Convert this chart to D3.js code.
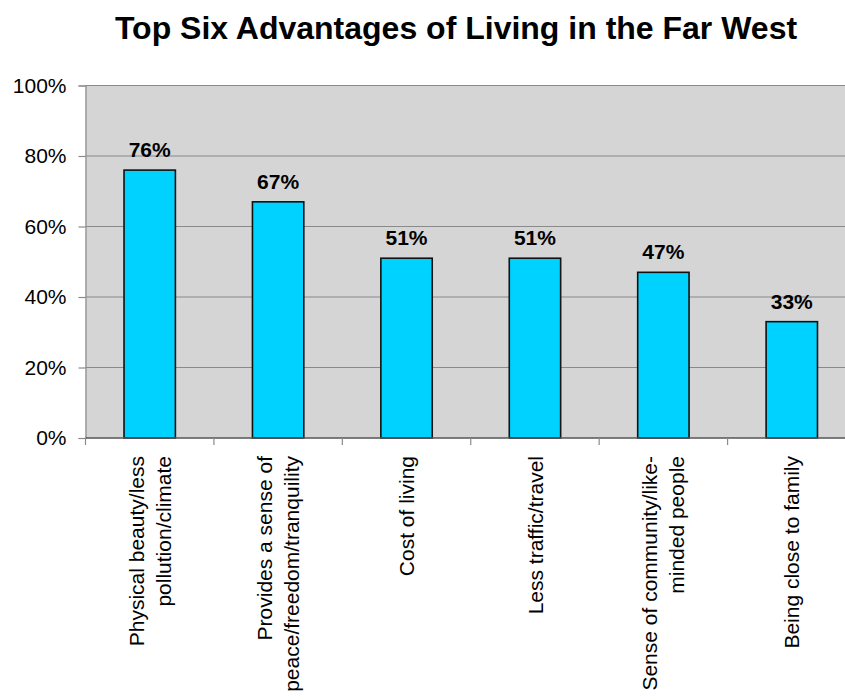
<!DOCTYPE html>
<html>
<head>
<meta charset="utf-8">
<script src="https://cdn.jsdelivr.net/npm/d3@7"></script>
<style>
  html, body { margin: 0; padding: 0; background: #fff; }
  svg { display: block; font-family: Arial, "Liberation Sans", sans-serif; }
</style>
</head>
<body>
<svg id="chart" width="845" height="700"></svg>
<script>
// Survey results: share of respondents naming each advantage
const categories = [
  "Physical beauty/less\npollution/climate",
  "Provides a sense of\npeace/freedom/tranquility",
  "Cost of living",
  "Less traffic/travel",
  "Sense of community/like-\nminded people",
  "Being close to family"
];
const values = [76, 67, 51, 51, 47, 33];
const yTicks = [0, 20, 40, 60, 80, 100];
const title = "Top Six Advantages of Living in the Far West";

const svg = d3.select("#chart");
const plot = { left: 85.5, right: 856, top: 85.5, bottom: 438 };

const x = d3.scaleBand()
  .domain(categories)
  .range([plot.left, plot.right])
  .paddingInner(0.6)
  .paddingOuter(0.3);

const y = d3.scaleLinear()
  .domain([0, 100])
  .range([plot.bottom, plot.top]);

// Plot background
svg.append("rect")
  .attr("x", plot.left).attr("y", plot.top)
  .attr("width", plot.right - plot.left).attr("height", plot.bottom - plot.top)
  .attr("fill", "#d5d5d5");

// Horizontal gridlines
svg.append("g")
  .selectAll("line")
  .data(yTicks.filter(d => d > 0))
  .join("line")
  .attr("x1", plot.left).attr("x2", plot.right)
  .attr("y1", d => y(d)).attr("y2", d => y(d))
  .attr("stroke", "#8a8a8a")
  .attr("stroke-width", 1.2);

// Y axis
const yAxis = svg.append("g")
  .attr("transform", `translate(${plot.left},0)`)
  .call(d3.axisLeft(y).tickValues(yTicks).tickFormat(d => d + "%").tickSize(7).tickPadding(12));
yAxis.select(".domain").attr("stroke", "#8a8a8a").attr("stroke-width", 1.2);
yAxis.selectAll(".tick line").attr("stroke", "#8a8a8a").attr("stroke-width", 1.2);
yAxis.selectAll(".tick text")
  .attr("font-size", 21)
  .attr("font-family", "Arial, 'Liberation Sans', sans-serif")
  .attr("fill", "#000");

// Bars
svg.append("g")
  .selectAll("rect")
  .data(values)
  .join("rect")
  .attr("x", (d, i) => x(categories[i]))
  .attr("y", d => y(d))
  .attr("width", x.bandwidth())
  .attr("height", d => y(0) - y(d))
  .attr("fill", "#00d2ff")
  .attr("stroke", "#111")
  .attr("stroke-width", 1.6);

// Value labels above bars
svg.append("g")
  .selectAll("text")
  .data(values)
  .join("text")
  .attr("x", (d, i) => x(categories[i]) + x.bandwidth() / 2)
  .attr("y", d => y(d) - 13)
  .attr("text-anchor", "middle")
  .attr("font-size", 21)
  .attr("font-weight", "bold")
  .attr("fill", "#000")
  .text(d => d + "%");

// X axis baseline and category separators
const bounds = d3.range(categories.length + 1).map(i => plot.left + i * (plot.right - plot.left) / categories.length);
svg.append("line")
  .attr("x1", plot.left).attr("x2", plot.right)
  .attr("y1", plot.bottom).attr("y2", plot.bottom)
  .attr("stroke", "#555").attr("stroke-width", 1.4);
svg.append("g")
  .selectAll("line")
  .data(bounds)
  .join("line")
  .attr("x1", d => d).attr("x2", d => d)
  .attr("y1", plot.bottom).attr("y2", plot.bottom + 7)
  .attr("stroke", "#8a8a8a").attr("stroke-width", 1.2);

// Rotated category labels
const lineGap = 27;
const labels = svg.append("g")
  .selectAll("text")
  .data(categories)
  .join("text")
  .attr("transform", d => `translate(${x(d) + x.bandwidth() / 2},456) rotate(-90)`)
  .attr("text-anchor", "end")
  .attr("font-size", 21)
  .attr("fill", "#000");
labels.each(function(d) {
  const lines = d.split("\n");
  const off = -(lines.length - 1) * lineGap / 2;
  d3.select(this).selectAll("tspan")
    .data(lines)
    .join("tspan")
    .attr("x", 0)
    .attr("y", (l, j) => off + j * lineGap)
    .attr("dy", "0.36em")
    .text(l => l);
});

// Title
svg.append("text")
  .attr("x", 456)
  .attr("y", 39)
  .attr("text-anchor", "middle")
  .attr("font-size", 32)
  .attr("font-weight", "bold")
  .attr("fill", "#000")
  .text(title);
</script>
</body>
</html>
